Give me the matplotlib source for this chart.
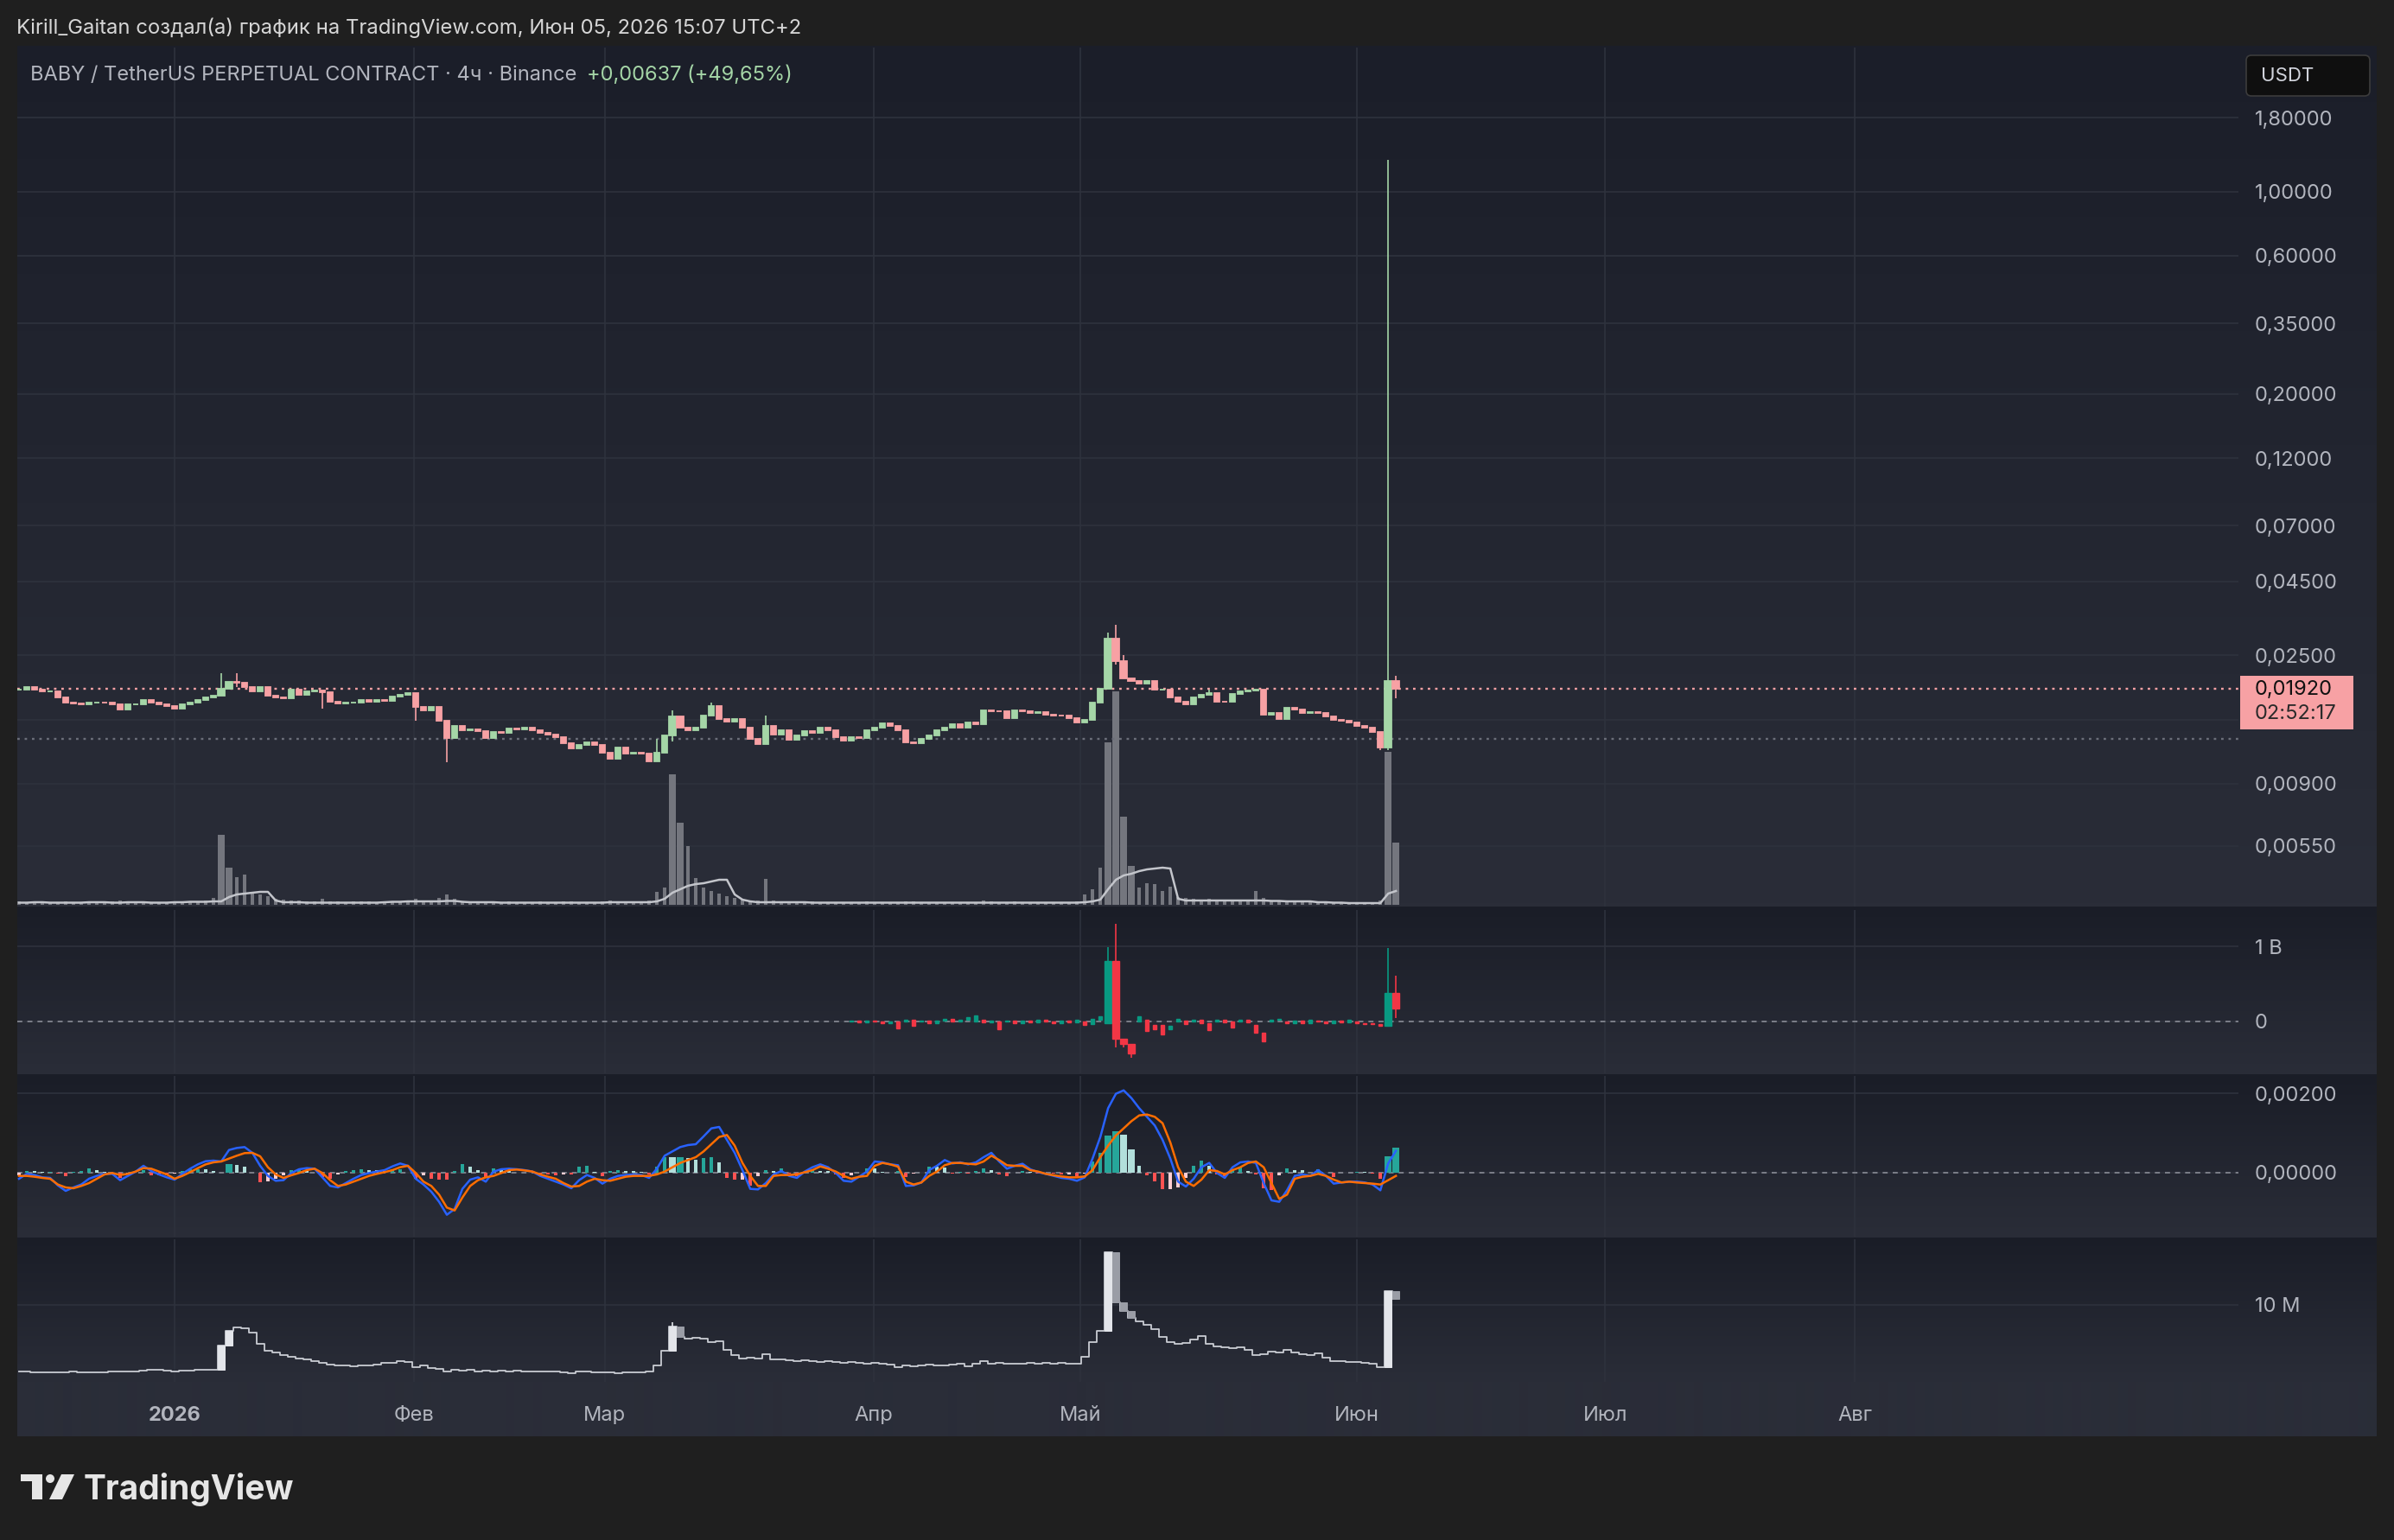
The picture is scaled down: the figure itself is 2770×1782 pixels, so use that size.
import numpy as np
import matplotlib
matplotlib.use("Agg")
import matplotlib.pyplot as plt
from matplotlib.colors import LinearSegmentedColormap
from matplotlib.patches import Rectangle, FancyBboxPatch, Circle, Polygon
from matplotlib.ticker import NullLocator
from matplotlib.transforms import blended_transform_factory as blend, IdentityTransform

plt.rcParams['font.family'] = ['Inter', 'DejaVu Sans']

# ---------------- data (one sample per bar slot) ----------------
months = ['2026', 'Фев', 'Мар', 'Апр', 'Май', 'Июн', 'Июл', 'Авг']
month_pos = [20.0, 50.8, 75.3, 109.9, 136.4, 172.0, 203.9, 236.0]

price_close = [
    0.0190, 0.0194, 0.0190, 0.0188, 0.0188, 0.0179, 0.0171, 0.0170, 0.0169, 0.0171,
    0.0172, 0.0171, 0.0169, 0.0162, 0.0169, 0.0169, 0.0175, 0.0171, 0.0169, 0.0167,
    0.0164, 0.0169, 0.0171, 0.0175, 0.0179, 0.0181, 0.0191, 0.0203, 0.0201, 0.0194,
    0.0188, 0.0194, 0.0181, 0.0179, 0.0177, 0.0190, 0.0182, 0.0188, 0.0189, 0.0186,
    0.0173, 0.0170, 0.0171, 0.0172, 0.0175, 0.0173, 0.0175, 0.0174, 0.0180, 0.0182,
    0.0185, 0.0166, 0.0161, 0.0166, 0.0149, 0.0129, 0.0143, 0.0138, 0.0139, 0.0137,
    0.01293, 0.01362, 0.01347, 0.01394, 0.01390, 0.01410, 0.01378, 0.01347, 0.01332, 0.01302,
    0.01243, 0.01188, 0.01229, 0.01252, 0.01229, 0.01148, 0.01096, 0.01202, 0.01143, 0.01153,
    0.01143, 0.01077, 0.01148, 0.01317, 0.01535, 0.01404, 0.01378, 0.01410, 0.01545, 0.01674,
    0.01510, 0.01476, 0.01510, 0.01410, 0.01287, 0.01235, 0.01427, 0.01332, 0.01378, 0.01281,
    0.01317, 0.01372, 0.01347, 0.01410, 0.01378, 0.01302, 0.01272, 0.01302, 0.01293, 0.01378,
    0.01404, 0.01450, 0.01427, 0.01378, 0.01252, 0.01243, 0.01287, 0.01323, 0.01378, 0.01410,
    0.01443, 0.01410, 0.01469, 0.01443, 0.01611, 0.01605, 0.01599, 0.01517, 0.01618, 0.01599,
    0.01581, 0.01588, 0.01563, 0.01552, 0.01545, 0.01517, 0.01469, 0.01493, 0.01713, 0.01921,
    0.02848, 0.02389, 0.02082, 0.02044, 0.01997, 0.02034, 0.01899, 0.01908, 0.01793, 0.01725,
    0.01694, 0.01793, 0.01822, 0.01856, 0.01733, 0.01725, 0.01835, 0.01877, 0.01890, 0.01899,
    0.01563, 0.01581, 0.01510, 0.01648, 0.01625, 0.01581, 0.01588, 0.01581, 0.01538, 0.01493,
    0.01483, 0.01469, 0.01427, 0.01404, 0.01362, 0.01202, 0.02034, 0.01920]

# candles with visible wicks
wick_idx = [26, 28, 39, 51, 55, 82, 84, 89, 96, 140, 141, 142, 153, 175, 176, 177]
wick_hi = [0.0216, 0.0216, 0.0189, 0.0185, 0.0149, 0.01287, 0.01618, 0.01713, 0.01552,
           0.02985, 0.0318, 0.0251, 0.01908, 0.01362, 1.29, 0.0213]
wick_lo = [0.0181, 0.0194, 0.0164, 0.0149, 0.0107, 0.01077, 0.01258, 0.01545, 0.01235,
           0.01921, 0.02324, 0.02082, 0.01822, 0.01174, 0.01174, 0.0178]

volume = [
    0.8, 0.6, 0.7, 0.9, 0.6, 0.7, 0.8, 0.6, 0.7, 0.9,
    0.7, 0.6, 0.8, 1.0, 0.7, 0.6, 0.8, 0.7, 0.6, 0.7,
    0.9, 0.8, 0.7, 0.8, 1.0, 1.6, 16.2, 8.6, 6.4, 7.0,
    3.0, 2.4, 2.0, 1.4, 1.2, 1.0, 1.0, 0.9, 0.8, 1.4,
    0.9, 0.8, 0.7, 0.8, 0.9, 0.8, 0.7, 0.7, 0.8, 0.8,
    0.9, 1.4, 1.0, 1.0, 1.6, 2.4, 1.4, 0.9, 0.8, 0.8,
    0.8, 0.7, 0.7, 0.8, 0.7, 0.6, 0.7, 0.8, 0.7, 0.7,
    0.8, 0.9, 0.7, 0.6, 0.7, 0.9, 1.0, 0.9, 0.7, 0.7,
    0.8, 1.0, 3.0, 4.0, 30.2, 19.0, 13.6, 6.2, 4.0, 3.2,
    2.6, 2.0, 1.6, 1.2, 1.0, 1.0, 6.0, 1.0, 0.8, 0.8,
    0.7, 0.7, 0.8, 0.7, 0.6, 0.7, 0.7, 0.6, 0.7, 0.8,
    0.7, 0.7, 0.6, 0.7, 0.9, 0.8, 0.7, 0.7, 0.6, 0.7,
    0.7, 0.6, 0.7, 0.6, 1.0, 0.8, 0.7, 0.7, 0.8, 0.7,
    0.6, 0.6, 0.7, 0.6, 0.6, 0.7, 0.8, 2.4, 3.6, 8.6,
    37.6, 49.4, 20.4, 9.0, 4.0, 5.0, 4.8, 3.2, 4.2, 1.8,
    1.6, 1.4, 1.2, 1.4, 1.0, 1.0, 1.2, 1.0, 1.0, 3.2,
    1.6, 1.0, 0.9, 1.0, 0.8, 0.8, 0.7, 0.7, 0.8, 0.7,
    0.6, 0.6, 0.6, 0.7, 0.7, 1.0, 35.4, 14.4]

volume_ma = [
    0.5, 0.5, 0.6, 0.6, 0.5, 0.5, 0.5, 0.5, 0.5, 0.6,
    0.6, 0.6, 0.5, 0.5, 0.6, 0.6, 0.6, 0.5, 0.5, 0.5,
    0.6, 0.6, 0.7, 0.7, 0.7, 0.8, 0.8, 1.8, 2.4, 2.6,
    2.8, 3.0, 3.0, 1.0, 0.6, 0.6, 0.6, 0.5, 0.5, 0.5,
    0.5, 0.5, 0.5, 0.5, 0.5, 0.5, 0.5, 0.6, 0.7, 0.7,
    0.8, 0.8, 0.8, 0.8, 0.8, 0.9, 0.9, 0.7, 0.6, 0.6,
    0.6, 0.6, 0.5, 0.5, 0.5, 0.5, 0.5, 0.5, 0.5, 0.5,
    0.5, 0.5, 0.5, 0.5, 0.5, 0.5, 0.6, 0.6, 0.6, 0.6,
    0.6, 0.6, 0.8, 1.4, 2.8, 3.6, 4.4, 4.8, 5.0, 5.4,
    5.8, 5.8, 2.4, 1.2, 0.8, 0.6, 0.6, 0.6, 0.6, 0.6,
    0.6, 0.6, 0.5, 0.5, 0.5, 0.5, 0.5, 0.5, 0.5, 0.5,
    0.5, 0.5, 0.5, 0.5, 0.5, 0.5, 0.5, 0.5, 0.5, 0.5,
    0.5, 0.5, 0.5, 0.5, 0.5, 0.5, 0.5, 0.5, 0.5, 0.5,
    0.5, 0.5, 0.5, 0.5, 0.5, 0.5, 0.5, 0.6, 0.8, 1.2,
    3.6, 5.8, 6.8, 7.2, 7.8, 8.2, 8.4, 8.6, 8.4, 1.4,
    1.0, 1.0, 1.0, 1.0, 1.0, 1.0, 1.0, 1.0, 1.0, 1.0,
    1.0, 0.9, 0.9, 0.8, 0.8, 0.8, 0.8, 0.6, 0.6, 0.5,
    0.5, 0.4, 0.4, 0.4, 0.4, 0.4, 2.6, 3.2]

# second pane: delta candles (in billions), bars 107..177
delta_start = 107
delta_open = [
    0.00, 0.01, -0.01, 0.01, 0.00, -0.02, 0.00, 0.00, 0.02, 0.00,
    0.01, -0.02, 0.01, 0.03, 0.00, 0.02, 0.00, 0.02, -0.01, 0.00,
    0.00, 0.01, -0.02, 0.01, -0.01, 0.02, 0.00, -0.02, 0.01, -0.01,
    0.00, -0.03, 0.02, -0.02, 0.81, -0.23, -0.30, 0.00, 0.02, -0.05,
    -0.05, -0.10, 0.00, 0.01, 0.00, 0.02, -0.02, 0.00, 0.02, 0.00,
    0.00, 0.02, -0.05, -0.15, 0.00, 0.02, 0.00, -0.02, 0.01, -0.02,
    0.01, 0.00, -0.02, 0.01, -0.01, 0.00, -0.02, -0.02, -0.03, -0.06,
    0.38]
delta_close = [
    0.01, -0.01, 0.01, 0.00, -0.02, 0.00, -0.09, 0.02, -0.06, 0.01,
    -0.02, 0.01, 0.03, 0.00, 0.02, 0.06, 0.08, -0.01, 0.01, -0.10,
    0.01, -0.02, 0.01, -0.01, 0.02, 0.00, -0.02, 0.01, -0.01, 0.02,
    -0.05, 0.04, 0.07, 0.81, -0.23, -0.30, -0.42, 0.07, -0.13, -0.10,
    -0.17, -0.06, 0.03, -0.03, 0.02, -0.02, -0.11, 0.02, -0.01, -0.08,
    0.02, -0.01, -0.15, -0.26, 0.02, 0.04, -0.02, 0.01, -0.02, 0.02,
    0.00, -0.02, 0.01, -0.01, 0.02, -0.02, -0.03, -0.04, -0.06, 0.38,
    0.17]
delta_wick_idx = [140, 141, 142, 143, 176, 177]
delta_wick_hi = [0.99, 1.30, -0.23, -0.30, 0.98, 0.61]
delta_wick_lo = [-0.02, -0.34, -0.34, -0.48, -0.06, 0.05]

# MACD, in thousandths
macd_line = [
    -0.152, -0.029, -0.058, -0.116, -0.130, -0.319, -0.457, -0.370, -0.297, -0.152,
    -0.080, -0.029, -0.029, -0.188, -0.080, 0.029, 0.174, 0.043, -0.043, -0.116,
    -0.174, -0.029, 0.101, 0.210, 0.290, 0.304, 0.283, 0.572, 0.623, 0.645,
    0.500, 0.174, -0.080, -0.203, -0.188, -0.007, 0.087, 0.116, 0.101, -0.116,
    -0.333, -0.370, -0.261, -0.152, -0.058, -0.007, 0.029, 0.065, 0.159, 0.232,
    0.174, -0.152, -0.297, -0.478, -0.732, -1.058, -0.913, -0.406, -0.174, -0.116,
    -0.225, 0.029, 0.087, 0.101, 0.087, 0.065, 0.029, -0.080, -0.152, -0.225,
    -0.297, -0.391, -0.188, -0.058, -0.130, -0.275, -0.152, -0.080, -0.058, -0.043,
    -0.058, -0.130, 0.101, 0.428, 0.536, 0.645, 0.696, 0.717, 0.913, 1.116,
    1.152, 0.826, 0.500, 0.065, -0.406, -0.420, -0.261, -0.043, 0.043, -0.080,
    -0.130, 0.029, 0.138, 0.210, 0.138, -0.007, -0.203, -0.225, -0.101, 0.029,
    0.283, 0.261, 0.210, 0.188, -0.333, -0.319, -0.246, 0.065, 0.174, 0.319,
    0.232, 0.261, 0.210, 0.261, 0.391, 0.500, 0.283, 0.101, 0.174, 0.225,
    0.087, 0.014, -0.029, -0.080, -0.130, -0.152, -0.203, -0.116, 0.355, 0.899,
    1.623, 1.986, 2.072, 1.877, 1.623, 1.406, 1.188, 0.826, 0.355, -0.225,
    -0.348, -0.152, 0.138, 0.246, -0.007, -0.130, 0.138, 0.261, 0.283, 0.246,
    -0.261, -0.696, -0.732, -0.442, -0.080, -0.043, -0.080, 0.065, -0.080, -0.275,
    -0.246, -0.225, -0.225, -0.246, -0.297, -0.442, 0.232, 0.551]
macd_signal = [
    -0.080, -0.080, -0.101, -0.130, -0.152, -0.297, -0.370, -0.391, -0.333, -0.261,
    -0.152, -0.043, -0.007, -0.058, -0.029, 0.029, 0.116, 0.101, 0.029, -0.043,
    -0.152, -0.080, 0.014, 0.116, 0.210, 0.261, 0.283, 0.355, 0.428, 0.493,
    0.500, 0.413, 0.138, -0.043, -0.130, -0.065, -0.007, 0.065, 0.101, -0.007,
    -0.188, -0.333, -0.297, -0.225, -0.152, -0.080, -0.029, 0.014, 0.065, 0.138,
    0.174, -0.007, -0.225, -0.333, -0.551, -0.877, -0.949, -0.623, -0.333, -0.188,
    -0.116, -0.080, -0.007, 0.065, 0.080, 0.058, 0.029, -0.043, -0.101, -0.152,
    -0.261, -0.348, -0.333, -0.225, -0.152, -0.188, -0.203, -0.152, -0.101, -0.080,
    -0.080, -0.080, -0.043, 0.029, 0.138, 0.246, 0.319, 0.391, 0.536, 0.717,
    0.899, 0.949, 0.681, 0.246, -0.080, -0.333, -0.333, -0.080, -0.058, -0.058,
    -0.043, 0.014, 0.065, 0.159, 0.101, 0.029, -0.080, -0.152, -0.101, -0.080,
    0.174, 0.246, 0.210, 0.152, -0.225, -0.297, -0.246, -0.080, 0.029, 0.188,
    0.246, 0.246, 0.225, 0.210, 0.283, 0.428, 0.319, 0.188, 0.174, 0.174,
    0.065, 0.029, -0.029, -0.065, -0.094, -0.116, -0.116, -0.094, 0.065, 0.391,
    0.681, 0.935, 1.116, 1.297, 1.442, 1.464, 1.406, 1.246, 0.761, 0.138,
    -0.225, -0.333, -0.174, 0.065, 0.043, -0.043, 0.065, 0.138, 0.246, 0.283,
    0.138, -0.261, -0.659, -0.551, -0.152, -0.101, -0.080, -0.029, -0.080, -0.174,
    -0.246, -0.225, -0.246, -0.261, -0.275, -0.297, -0.188, -0.080]

# bottom pane, millions
oi_close = [
    6.13, 6.15, 6.12, 6.10, 6.12, 6.08, 6.10, 6.13, 6.12, 6.10,
    6.12, 6.10, 6.13, 6.17, 6.15, 6.17, 6.22, 6.25, 6.25, 6.20,
    6.17, 6.20, 6.22, 6.25, 6.25, 6.25, 7.67, 8.50, 8.70, 8.63,
    8.42, 7.75, 7.37, 7.25, 7.08, 7.00, 6.92, 6.83, 6.75, 6.67,
    6.53, 6.50, 6.50, 6.47, 6.50, 6.50, 6.53, 6.63, 6.67, 6.75,
    6.70, 6.42, 6.50, 6.37, 6.30, 6.13, 6.25, 6.20, 6.25, 6.17,
    6.20, 6.17, 6.20, 6.17, 6.20, 6.17, 6.15, 6.17, 6.13, 6.13,
    6.08, 6.03, 6.17, 6.13, 6.08, 6.10, 6.08, 6.06, 6.08, 6.10,
    6.08, 6.17, 6.50, 7.33, 8.75, 8.17, 8.03, 8.08, 8.06, 7.83,
    7.92, 7.42, 7.08, 6.92, 6.97, 6.92, 7.17, 6.83, 6.85, 6.80,
    6.75, 6.80, 6.75, 6.70, 6.75, 6.70, 6.67, 6.70, 6.67, 6.58,
    6.63, 6.58, 6.53, 6.42, 6.50, 6.47, 6.50, 6.53, 6.50, 6.52,
    6.53, 6.58, 6.47, 6.58, 6.75, 6.58, 6.67, 6.58, 6.60, 6.58,
    6.63, 6.58, 6.63, 6.58, 6.63, 6.58, 6.60, 7.00, 7.83, 8.50,
    13.03, 10.17, 9.67, 9.25, 9.03, 8.83, 8.58, 8.17, 7.87, 7.75,
    7.80, 8.00, 8.20, 7.75, 7.58, 7.53, 7.50, 7.53, 7.42, 7.08,
    7.17, 7.30, 7.25, 7.42, 7.25, 7.17, 7.08, 7.20, 6.97, 6.75,
    6.75, 6.70, 6.70, 6.63, 6.58, 6.42, 10.78, 10.33]
oi_wick_idx = [84]
oi_wick_hi = [9.00]

wide_bars = [26, 27, 84, 85, 140, 141, 142, 143, 176, 177]

price_ticks = [1.8, 1.0, 0.6, 0.35, 0.2, 0.12, 0.07, 0.045, 0.025, 0.015, 0.009, 0.0055]
last_price = 0.01920
prev_close = 0.01283

# ---------------- layout ----------------
W, H = 2770, 1782
fig = plt.figure(figsize=(W / 100, H / 100), dpi=100, facecolor='#1f1f1f')

UP, DOWN = '#a5d6a7', '#f7a1a4'
GRID = '#2e323d'
LABEL = '#b2b5be'
XL = (-0.22, 285.3)


def box(left, top, right, bottom):
    return [left / W, 1 - bottom / H, (right - left) / W, (bottom - top) / H]


def gradient(top, bottom, c0, c1):
    a = fig.add_axes(box(20, top, 2750, bottom), zorder=0)
    cm = LinearSegmentedColormap.from_list('bg', [c0, c1])
    a.imshow(np.linspace(0, 1, 256)[:, None], aspect='auto', cmap=cm)
    a.set_axis_off()


gradient(53, 1049, '#1b1e29', '#2a2d38')
gradient(1049, 1243, '#1a1d27', '#2a2d38')
gradient(1243, 1432, '#1a1d27', '#2a2d38')
gradient(1432, 1599, '#1a1d27', '#2a2d38')
gradient(1599, 1662, '#2a2d38', '#2a2d38')

ax1 = fig.add_axes(box(20, 55, 2590, 1049), zorder=2)
ax2 = fig.add_axes(box(20, 1053, 2590, 1242), zorder=2)
ax3 = fig.add_axes(box(20, 1245, 2590, 1431), zorder=2)
ax4 = fig.add_axes(box(20, 1434, 2590, 1599), zorder=2)

for a in (ax1, ax2, ax3, ax4):
    a.set_facecolor('none')
    for s in a.spines.values():
        s.set_visible(False)
    a.set_xlim(XL)
    a.set_xticks(month_pos)
    a.tick_params(axis='x', length=0, labelbottom=False)
    a.yaxis.tick_right()
    a.tick_params(axis='y', length=0, pad=13.7, labelsize=17, labelcolor=LABEL)
    a.grid(True, color=GRID, linewidth=1.2)
    a.set_axisbelow(True)


def candles(ax, x, o, c, hi, lo, up, down, thin=0.5, edge=0.7, z=3):
    x = np.asarray(x)
    o, c, hi, lo = map(np.asarray, (o, c, hi, lo))
    cols = np.where(c >= o, up, down)
    widths = np.where(np.isin(x, wide_bars), 0.88, thin)
    ax.vlines(x, lo, hi, colors=cols, linewidth=1.2, zorder=z)
    ax.bar(x, c - o, bottom=o, width=widths, color=cols, edgecolor=cols,
           linewidth=edge, zorder=z)


# ---- main pane: price + volume ----
n = len(price_close)
xs = np.arange(n)
pc = np.array(price_close)
po = np.r_[pc[0], pc[:-1]]
ph = np.maximum(po, pc)
pl = np.minimum(po, pc)
for i, h, l in zip(wick_idx, wick_hi, wick_lo):
    ph[i] = max(h, po[i], pc[i])
    pl[i] = min(l, po[i], pc[i])

ax1.set_yscale('log')
ax1.set_ylim(0.003388, 3.142)
ax1.yaxis.set_minor_locator(NullLocator())
ax1.set_yticks(price_ticks)
ax1.set_yticklabels(['' if t == 0.015 else f'{t:.5f}'.replace('.', ',') for t in price_ticks])

VOL_TOP = 198.8
vtr = blend(ax1.transData, ax1.transAxes)
vw = np.where(np.isin(xs, wide_bars), 0.88, 0.45)
ax1.bar(xs, np.array(volume) / VOL_TOP, width=vw, bottom=0.002, color='#74767e',
        transform=vtr, zorder=1.5)
ax1.plot(xs, np.array(volume_ma) / VOL_TOP + 0.002, color='#c3c5cb', linewidth=1.8,
         transform=vtr, zorder=1.6)

ax1.axhline(last_price, color=DOWN, linestyle=(0, (1.2, 2.4)), linewidth=1.7, zorder=1.8)
ax1.axhline(prev_close, color='#6b6e79', linestyle=(0, (1.2, 2.4)), linewidth=1.7, zorder=1.8)
candles(ax1, xs, po, pc, ph, pl, UP, DOWN, thin=0.7, edge=1.3)

# ---- pane 2: delta candles ----
dx = np.arange(delta_start, delta_start + len(delta_close))
do, dc = np.array(delta_open), np.array(delta_close)
dh, dl = np.maximum(do, dc), np.minimum(do, dc)
for i, h, l in zip(delta_wick_idx, delta_wick_hi, delta_wick_lo):
    k = i - delta_start
    dh[k] = max(h, dh[k])
    dl[k] = min(l, dl[k])
ax2.set_ylim(-0.690, 1.483)
ax2.set_yticks([0, 1])
ax2.set_yticklabels(['0', '1 B'])
ax2.axhline(0, color='#7c7f89', linestyle=(0, (3, 3)), linewidth=1.4, zorder=1)
candles(ax2, dx, do, dc, dh, dl, '#089981', '#f23645', thin=0.5, edge=1.0)

# ---- pane 3: MACD ----
ml, ms = np.array(macd_line), np.array(macd_signal)
hist = ml - ms
prev = np.r_[hist[0], hist[:-1]]
hcol = np.where(hist >= 0, np.where(hist >= prev, '#26a69a', '#b2dfdb'),
                np.where(hist < prev, '#ff5252', '#ffcdd2'))
ax3.set_ylim(-1.609, 2.435)
ax3.set_yticks([0, 2])
ax3.set_yticklabels(['0,00000', '0,00200'])
ax3.axhline(0, color='#7c7f89', linestyle=(0, (3, 3)), linewidth=1.4, zorder=1)
ax3.bar(xs, hist, width=np.where(np.isin(xs, wide_bars), 0.88, 0.45), color=hcol, zorder=2)
ax3.plot(xs, ml, color='#2962ff', linewidth=1.8, zorder=3)
ax3.plot(xs, ms, color='#ff6d00', linewidth=1.8, zorder=3)

# ---- pane 4: thin line with wide bars on the jumps ----
oc = np.array(oi_close)
oo = np.r_[oc[0], oc[:-1]]
oh, ol = np.maximum(oo, oc), np.minimum(oo, oc)
for i, h in zip(oi_wick_idx, oi_wick_hi):
    oh[i] = max(h, oh[i])
ax4.set_ylim(5.55, 13.8)
ax4.set_yticks([10])
ax4.set_yticklabels(['10 M'])
ax4.plot(xs, oc, drawstyle='steps-mid', color='#c9ccd3', linewidth=1.3, zorder=2)
wb = np.array(wide_bars)
candles(ax4, wb, oo[wb], oc[wb], oh[wb], ol[wb], '#e3e5ea', '#9a9da6')

# time axis labels
ttr = blend(ax4.transData, ax4.transAxes)
for m, p in zip(months, month_pos):
    ax4.text(p, -0.236, m, transform=ttr, ha='center', va='center', fontsize=17,
             color=LABEL, fontweight='bold' if m == '2026' else 'normal')


# ---- texts & decorations ----
def fx(px):
    return px / W


def fy(py):
    return 1 - py / H


fig.text(fx(19), fy(32), 'Kirill_Gaitan создал(а) график на TradingView.com, Июн 05, 2026 15:07 UTC+2',
         color='#d6d6d6', fontsize=17.2, va='center', ha='left')
t1 = fig.text(fx(35), fy(87), 'BABY / TetherUS PERPETUAL CONTRACT · 4ч · Binance',
              color='#b2b5be', fontsize=17, va='center', ha='left')
r = fig.canvas.get_renderer()
bb = t1.get_window_extent(renderer=r)
fig.text(bb.x1 / W + 12 / W, fy(87), '+0,00637 (+49,65%)', color=UP, fontsize=17,
         va='center', ha='left')

px_tr = IdentityTransform()
fig.patches.append(FancyBboxPatch((2599, H - 111), 143, 47, boxstyle='round,pad=0,rounding_size=6',
                                  transform=px_tr, fc='#0f0f0f', ec='#3c3c3c', lw=1.2))
fig.text(fx(2616), fy(88), 'USDT', color='#d1d4dc', fontsize=16, va='center', ha='left')

# price tag
ty = H - ax1.transData.transform((0, last_price))[1]
fig.patches.append(Rectangle((2592, H - (ty + 47)), 131, 62, transform=px_tr,
                             fc=DOWN, ec='none'))
fig.text(fx(2609), fy(ty + 1), '0,01920', color='#111111', fontsize=17, va='center', ha='left')
fig.text(fx(2609), fy(ty + 29), '02:52:17', color='#2a2a2a', fontsize=17, va='center', ha='left')

# logo
logo = '#e6e6e6'
fig.patches.append(Rectangle((24, H - 1714), 25, 8, transform=px_tr, fc=logo, ec='none'))
fig.patches.append(Rectangle((37, H - 1735), 12, 29, transform=px_tr, fc=logo, ec='none'))
fig.patches.append(Circle((58, H - 1711), 5, transform=px_tr, fc=logo, ec='none'))
fig.patches.append(Polygon([(71, H - 1706), (86, H - 1706), (72, H - 1735), (57, H - 1735)],
                           closed=True, transform=px_tr, fc=logo, ec='none'))
fig.text(fx(97), fy(1735), 'TradingView', color=logo, fontsize=28, fontweight='bold',
         va='baseline', ha='left')

fig.savefig('out.png', dpi=100, facecolor=fig.get_facecolor())
